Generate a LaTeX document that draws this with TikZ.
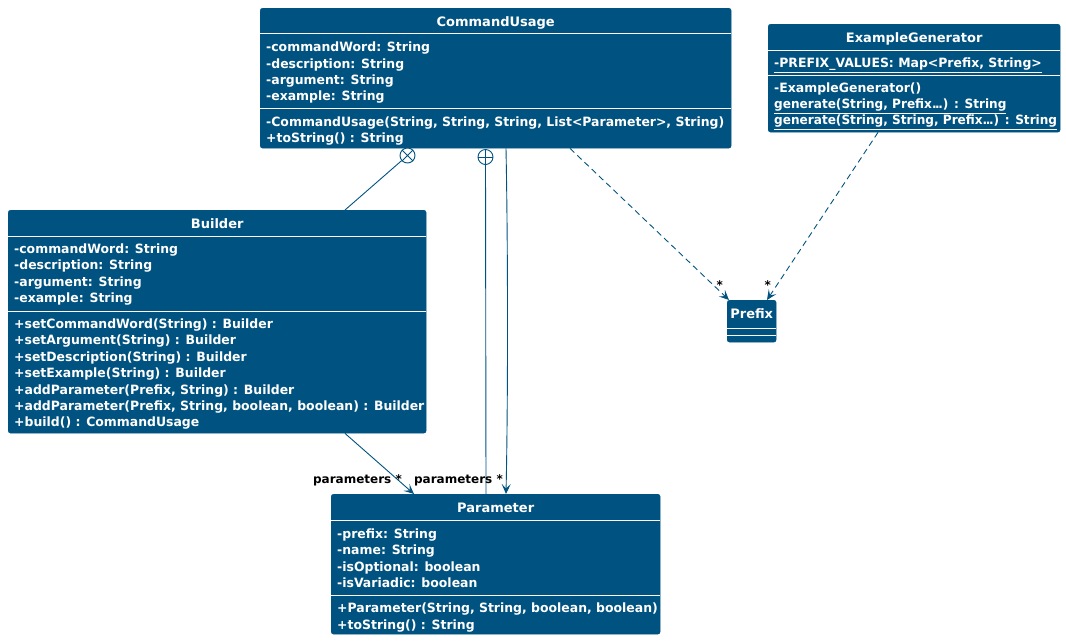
\documentclass[tikz,border=0pt]{standalone}
\usepackage{fontspec}
\setmainfont{DejaVu Sans}
\newfontfamily\memfam{DejaVu Sans}[FakeStretch=0.972]
\newfontfamily\narrowfam{DejaVu Sans}[FakeStretch=0.945]
\usetikzlibrary{arrows.meta,calc}
\definecolor{umlblue}{RGB}{0,82,128}

\newcommand\umlf{\memfam\bfseries\fontsize{12.8}{15}\selectfont}
\newcommand\ttlf{\bfseries\fontsize{13}{15}\selectfont}
\newcommand\lblf{\bfseries\fontsize{12}{14}\selectfont}
% three tightly set dots for variable arguments
\newcommand\vargdots{.\kern-1.4pt.\kern-1.4pt.}
% narrower setting for the long static signatures
\newcommand\narrow{\narrowfam\bfseries}

\tikzset{
  cls/.style={fill=umlblue, draw=umlblue, rounded corners=2.5pt, inner sep=0, anchor=north west},
  sepline/.style={draw=white, line width=0.9pt},
  ttl/.style={anchor=base, inner sep=0, text=white, font=\ttlf},
  mem/.style={anchor=base west, inner sep=0, text=white, font=\umlf},
  lbl/.style={anchor=base east, inner sep=0, text=black, font=\lblf},
  link/.style={draw=umlblue, line width=0.9pt},
  assoc/.style={link, -{Stealth[length=10pt,width=9pt,inset=4.5pt]}},
  dep/.style={assoc, dash pattern=on 6pt off 4pt},
  nest/.style={circle, draw=umlblue, fill=white, line width=0.9pt, minimum size=15pt, inner sep=0},
}

% members of a class compartment: box name, tag, x, first baseline, list of lines
\newcommand\umlmembers[5]{%
  \foreach \t [count=\i from 0] in {#5}
    \node[mem] (#1-#2\i) at (#3,{#4+16.35*\i}) {\t};}

\begin{document}
\begin{tikzpicture}[x=1pt,y=-1pt]
\useasboundingbox (0,0) rectangle (1066,641);

% ---- CommandUsage ----
\node[cls, minimum width=471pt, minimum height=140pt] (cu) at (260,8) {};
\node[ttl] (cu-t) at ($(cu.north)+(0,18)$) {CommandUsage};
\draw[sepline] (260,33.5) -- (731,33.5);
\umlmembers{cu}{a}{266}{51.8}{{-commandWord: String},{-description: String},{-argument: String},{-example: String}}
\draw[sepline] (260,108) -- (731,108);
\umlmembers{cu}{m}{266}{126.6}{{-CommandUsage(String, String, String, List<Parameter>, String)},{+toString() : String}}

% ---- ExampleGenerator ----
\node[cls, minimum width=292pt, minimum height=108pt] (eg) at (768,24) {};
\node[ttl] (eg-t) at ($(eg.north)+(0,18)$) {ExampleGenerator};
\draw[sepline] (768,50) -- (1060,50);
\umlmembers{eg}{a}{774}{67.5}{{\underline{-PREFIX\_VALUES: Map<Prefix, String>}}}
\draw[sepline] (768,75) -- (1060,75);
\umlmembers{eg}{m}{774}{92.2}{{-ExampleGenerator()},{\narrow\underline{generate(String, Prefix\vargdots) : String}},{\narrow\underline{generate(String, String, Prefix\vargdots) : String}}}

% ---- Builder ----
\node[cls, minimum width=418pt, minimum height=223pt] (bld) at (8,210) {};
\node[ttl] (bld-t) at ($(bld.north)+(0,18)$) {Builder};
\draw[sepline] (8,236.5) -- (426,236.5);
\umlmembers{bld}{a}{14}{253.5}{{-commandWord: String},{-description: String},{-argument: String},{-example: String}}
\draw[sepline] (8,311) -- (426,311);
\umlmembers{bld}{m}{14}{328.6}{{+setCommandWord(String) : Builder},{+setArgument(String) : Builder},{+setDescription(String) : Builder},{+setExample(String) : Builder},{+addParameter(Prefix, String) : Builder},{+addParameter(Prefix, String, boolean, boolean) : Builder},{+build() : CommandUsage}}

% ---- Parameter ----
\node[cls, minimum width=329pt, minimum height=140pt] (par) at (331,494) {};
\node[ttl] (par-t) at ($(par.north)+(0,18)$) {Parameter};
\draw[sepline] (331,520.5) -- (660,520.5);
\umlmembers{par}{a}{337}{538.5}{{-prefix: String},{-name: String},{-isOptional: boolean},{-isVariadic: boolean}}
\draw[sepline] (331,595) -- (660,595);
\umlmembers{par}{m}{337}{612.8}{{+Parameter(String, String, boolean, boolean)},{+toString() : String}}

% ---- Prefix ----
\node[cls, minimum width=49pt, minimum height=42pt] (pre) at (727,300) {};
\node[ttl] (pre-t) at ($(pre.north)+(0,18.5)$) {Prefix};
\draw[sepline] (727,328) -- (776,328);
\draw[sepline] (727,335.5) -- (776,335.5);

% ---- nesting symbols ----
\node[nest] (nest1) at (407.5,155.5) {};
\draw[link] (nest1.north west) -- (nest1.south east) (nest1.north east) -- (nest1.south west);
\node[nest] (nest2) at (485.5,157) {};
\draw[link] (nest2.north) -- (nest2.south) (nest2.west) -- (nest2.east);

% ---- connectors ----
\draw[link] ($(bld.north west)+(337,0)$) -- (nest1);
\draw[link] (nest2) -- ($(par.north west)+(155,0)$);
\draw[assoc] ($(cu.south west)+(246,0)$) .. controls (508,250) and (508,400) .. ($(par.north west)+(175,0)$);
\draw[assoc] ($(bld.south west)+(337,0)$) -- ($(par.north west)+(83,0)$);
\draw[dep] ($(cu.south west)+(310,0)$) -- ($(pre.north west)+(2,0)$);
\draw[dep] ($(eg.south west)+(110,0)$) -- ($(pre.north west)+(40,0)$);

% ---- labels ----
\node[lbl] (l1) at (402,483) {parameters *};
\node[lbl] (l2) at (503,483) {parameters *};
\node[lbl] (l3) at (723,289) {*};
\node[lbl] (l4) at (771,289) {*};
\end{tikzpicture}
\end{document}
